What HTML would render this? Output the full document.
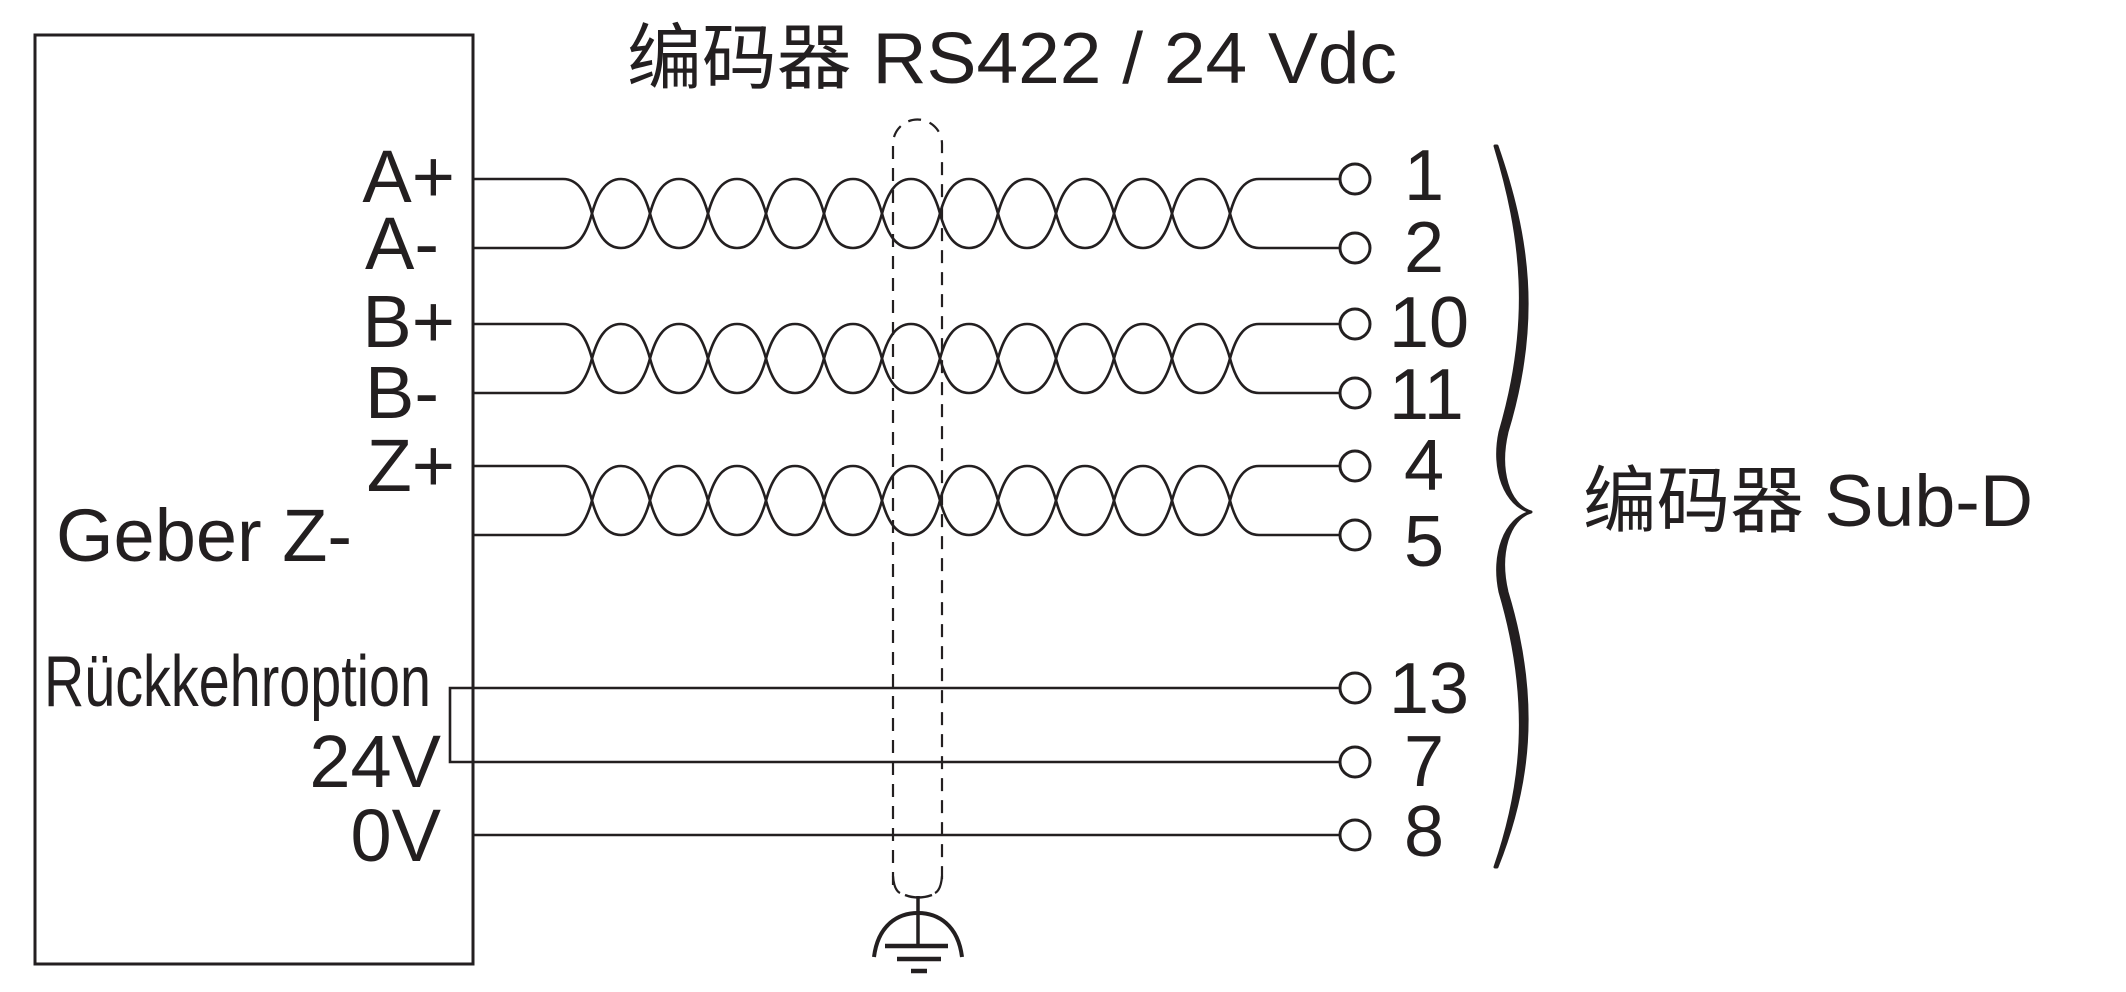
<!DOCTYPE html>
<html><head><meta charset="utf-8"><style>
html,body{margin:0;padding:0;background:#fff;}
svg{display:block;}
text{font-family:"Liberation Sans","Noto Sans CJK SC",sans-serif;fill:#231f20;}
</style></head><body>
<svg width="2126" height="992" viewBox="0 0 2126 992" xmlns="http://www.w3.org/2000/svg">
<defs>
<path id="pt" d="M473,179 H563 c16,0 24,16 29,34.5 c5,18.5 13,34.5 29,34.5 c16,0 24,-16 29,-34.5 c5,-18.5 13,-34.5 29,-34.5 c16,0 24,16 29,34.5 c5,18.5 13,34.5 29,34.5 c16,0 24,-16 29,-34.5 c5,-18.5 13,-34.5 29,-34.5 c16,0 24,16 29,34.5 c5,18.5 13,34.5 29,34.5 c16,0 24,-16 29,-34.5 c5,-18.5 13,-34.5 29,-34.5 c16,0 24,16 29,34.5 c5,18.5 13,34.5 29,34.5 c16,0 24,-16 29,-34.5 c5,-18.5 13,-34.5 29,-34.5 c16,0 24,16 29,34.5 c5,18.5 13,34.5 29,34.5 c16,0 24,-16 29,-34.5 c5,-18.5 13,-34.5 29,-34.5 c16,0 24,16 29,34.5 c5,18.5 13,34.5 29,34.5 c16,0 24,-16 29,-34.5 c5,-18.5 13,-34.5 29,-34.5 H1340"/>
<path id="pb" d="M473,248 H563 c16,0 24,-16 29,-34.5 c5,-18.5 13,-34.5 29,-34.5 c16,0 24,16 29,34.5 c5,18.5 13,34.5 29,34.5 c16,0 24,-16 29,-34.5 c5,-18.5 13,-34.5 29,-34.5 c16,0 24,16 29,34.5 c5,18.5 13,34.5 29,34.5 c16,0 24,-16 29,-34.5 c5,-18.5 13,-34.5 29,-34.5 c16,0 24,16 29,34.5 c5,18.5 13,34.5 29,34.5 c16,0 24,-16 29,-34.5 c5,-18.5 13,-34.5 29,-34.5 c16,0 24,16 29,34.5 c5,18.5 13,34.5 29,34.5 c16,0 24,-16 29,-34.5 c5,-18.5 13,-34.5 29,-34.5 c16,0 24,16 29,34.5 c5,18.5 13,34.5 29,34.5 c16,0 24,-16 29,-34.5 c5,-18.5 13,-34.5 29,-34.5 c16,0 24,16 29,34.5 c5,18.5 13,34.5 29,34.5 H1340"/>
</defs>
<g fill="none" stroke="#231f20">
<rect x="35" y="35" width="438" height="929" stroke-width="3"/>
<g stroke-width="2.6">
<use href="#pt"/><use href="#pb"/>
<use href="#pt" y="145"/><use href="#pb" y="145"/>
<use href="#pt" y="287"/><use href="#pb" y="287"/>
<path d="M1340,688 H450 V762 H1340"/>
<path d="M473,835 H1340"/>
</g>
<g stroke-width="3">
<circle cx="1355" cy="179" r="15"/><circle cx="1355" cy="248" r="15"/>
<circle cx="1355" cy="324" r="15"/><circle cx="1355" cy="393" r="15"/>
<circle cx="1355" cy="466" r="15"/><circle cx="1355" cy="535" r="15"/>
<circle cx="1355" cy="688" r="15"/><circle cx="1355" cy="762" r="15"/>
<circle cx="1355" cy="835" r="15"/>
</g>
<path d="M893,885 V144 A24.5,24.5 0 0 1 942,144 V885" stroke-width="2.2" stroke-dasharray="13,9"/>
<path d="M893,876 Q894,890 900,893 M942,876 Q941,890 935,893" stroke-width="2.2"/>
<path d="M905,895 Q918,900 932,895" stroke-width="2.5"/>
<path d="M918,896 V946" stroke-width="3.5"/>
<path d="M874,957 C878,925 898,913 918,913 C938,913 958,925 962,957" stroke-width="4"/>
<path d="M885,946 H948" stroke-width="4.5"/>
<path d="M897,959 H941" stroke-width="4.5"/>
<path d="M911,971 H927" stroke-width="4.5"/>
</g>
<path d="M1495,146 C1522,235 1533,320 1500,432 C1492,470 1505,505 1531,512 C1505,519 1492,554 1500,592 C1533,704 1522,789 1495,867 L1497,867 C1528,789 1541,704 1507,592 C1498,554 1508,519 1531,512 C1508,505 1498,470 1507,432 C1541,320 1528,235 1497,146 Z" fill="#231f20" stroke="#231f20" stroke-width="3" stroke-linejoin="round"/>
<text x="627" y="83" font-size="72" textLength="770" lengthAdjust="spacingAndGlyphs">编码器 RS422 / 24 Vdc</text>
<text x="1583" y="526" font-size="73" textLength="450" lengthAdjust="spacingAndGlyphs">编码器 Sub-D</text>
<g font-size="74" text-anchor="end">
<text x="455" y="202">A+</text>
<text x="439" y="269">A-</text>
<text x="455" y="347">B+</text>
<text x="439" y="418">B-</text>
<text x="455" y="491">Z+</text>
<text x="441" y="787">24V</text>
<text x="441" y="861">0V</text>
</g>
<text x="56" y="561" font-size="74">Geber Z-</text>
<text x="44" y="706" font-size="72" textLength="387" lengthAdjust="spacingAndGlyphs">Rückkehroption</text>
<g font-size="72">
<text x="1404" y="200">1</text>
<text x="1404" y="272">2</text>
<text x="1389" y="347">10</text>
<text x="1389" y="419">11</text>
<text x="1404" y="490">4</text>
<text x="1404" y="566">5</text>
<text x="1389" y="713">13</text>
<text x="1404" y="786">7</text>
<text x="1404" y="856">8</text>
</g>
</svg>
</body></html>
